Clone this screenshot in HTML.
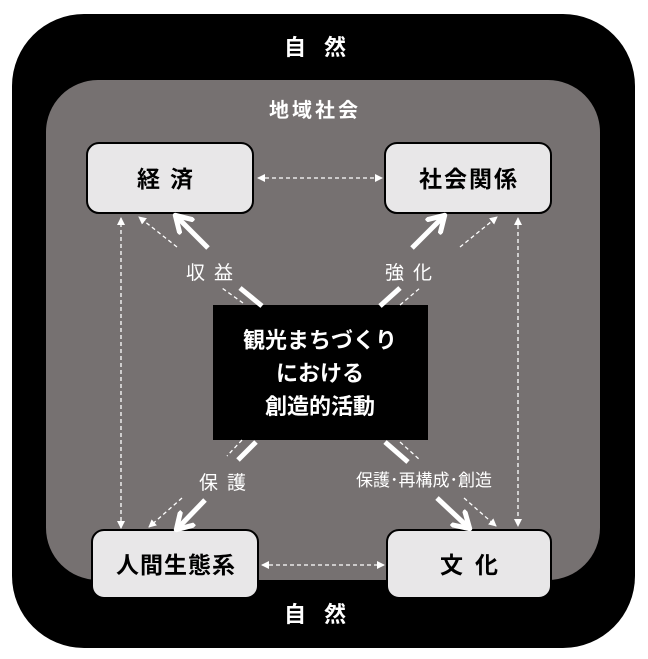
<!DOCTYPE html>
<html><head><meta charset="utf-8"><style>
html,body{margin:0;padding:0;background:#fff}
svg{display:block}
text{font-family:"Liberation Sans","Noto Sans CJK JP",sans-serif;font-weight:bold}
</style></head><body>
<svg width="648" height="659" viewBox="0 0 648 659" xmlns="http://www.w3.org/2000/svg">
<defs>
<marker id="s" markerWidth="8" markerHeight="8" refX="7" refY="4" orient="auto" markerUnits="userSpaceOnUse"><path d="M0,0 L8,4 L0,8 z" fill="#fff"/></marker>
<marker id="ss" markerWidth="8" markerHeight="8" refX="1" refY="4" orient="auto" markerUnits="userSpaceOnUse"><path d="M8,0 L0,4 L8,8 z" fill="#fff"/></marker>
<marker id="b" markerWidth="22" markerHeight="22" refX="16" refY="11" orient="auto" markerUnits="userSpaceOnUse"><path d="M2,2 L17,11 L2,20" fill="none" stroke="#fff" stroke-width="5" stroke-linecap="round" stroke-linejoin="round"/></marker>
</defs>
<rect x="12" y="14" width="623" height="634" rx="72" fill="#000"/>
<rect x="46" y="80" width="554" height="500" rx="52" fill="#767171"/>
<text x="324" y="55" fill="#fff" font-size="22" text-anchor="middle" letter-spacing="18">自然</text>
<text x="324" y="622" fill="#fff" font-size="22" text-anchor="middle" letter-spacing="18">自然</text>
<text x="315" y="117" fill="#fff" font-size="20" text-anchor="middle" letter-spacing="3">地域社会</text>
<g stroke="#000" stroke-width="2" fill="#e8e7e8">
<rect x="87" y="143" width="166" height="70" rx="12"/>
<rect x="385" y="143" width="166" height="70" rx="12"/>
<rect x="92" y="530" width="166" height="68" rx="12"/>
<rect x="387" y="530" width="164" height="68" rx="12"/>
</g>
<g font-size="23" fill="#000" text-anchor="middle">
<text x="170" y="187" letter-spacing="10">経済</text>
<text x="469" y="187" letter-spacing="2">社会関係</text>
<text x="176" y="573" letter-spacing="1">人間生態系</text>
<text x="475" y="573" letter-spacing="12">文化</text>
</g>
<rect x="213" y="305" width="215" height="135" fill="#000"/>
<g font-size="22" fill="#fff" text-anchor="middle">
<text x="320" y="348">観光まちづくり</text>
<text x="320" y="381">における</text>
<text x="320" y="414">創造的活動</text>
</g>
<g fill="#fff" text-anchor="middle">
<text x="214" y="279" font-size="19" letter-spacing="9" style="font-weight:normal">収益</text>
<text x="413" y="279" font-size="19" letter-spacing="9" style="font-weight:normal">強化</text>
<text x="227" y="489" font-size="19" letter-spacing="9" style="font-weight:normal">保護</text>
<text x="424" y="486" font-size="17" style="font-weight:normal">保護･再構成･創造</text>
</g>
<g stroke="#fff" stroke-width="1.3" stroke-dasharray="4,3" fill="none">
<line x1="121" y1="528" x2="121" y2="218" marker-end="url(#s)" marker-start="url(#ss)"/>
<line x1="518" y1="218" x2="518" y2="526" marker-end="url(#s)" marker-start="url(#ss)"/>
<line x1="258" y1="178" x2="382" y2="178" marker-end="url(#s)" marker-start="url(#ss)"/>
<line x1="262" y1="565" x2="384" y2="565" marker-end="url(#s)" marker-start="url(#ss)"/>
<line x1="177" y1="247" x2="139" y2="217" marker-end="url(#s)"/>
<line x1="243" y1="303" x2="222" y2="288"/>
<line x1="460" y1="247" x2="497" y2="217" marker-end="url(#s)"/>
<line x1="400" y1="305" x2="420" y2="288"/>
<line x1="242" y1="440" x2="227" y2="456"/>
<line x1="182" y1="498" x2="149" y2="527" marker-end="url(#s)"/>
<line x1="400" y1="442" x2="420" y2="460"/>
<line x1="464" y1="498" x2="496" y2="526" marker-end="url(#s)"/>
</g>
<g stroke="#fff" stroke-width="5" fill="none">
<line x1="262" y1="306" x2="240" y2="288"/>
<line x1="208" y1="248" x2="176" y2="216" marker-end="url(#b)"/>
<line x1="380" y1="306" x2="400" y2="288"/>
<line x1="412" y1="248" x2="444" y2="216" marker-end="url(#b)"/>
<line x1="256" y1="442" x2="238" y2="460"/>
<line x1="205" y1="500" x2="177" y2="529" marker-end="url(#b)"/>
<line x1="385" y1="442" x2="408" y2="462"/>
<line x1="437" y1="498" x2="469" y2="528" marker-end="url(#b)"/>
</g>
</svg>
</body></html>
